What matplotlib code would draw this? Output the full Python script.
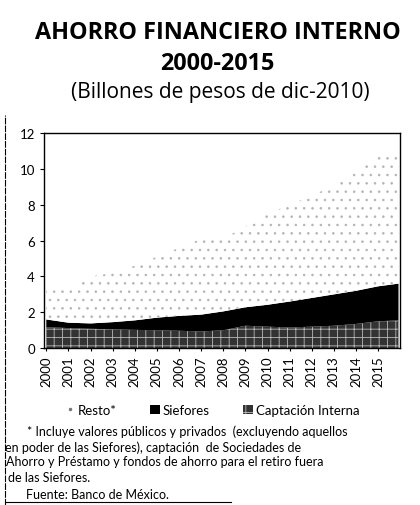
# coding: utf-8

import numpy as np
import matplotlib
matplotlib.use('agg')
import matplotlib.pyplot as plt
from matplotlib.patches import Patch
from matplotlib.lines import Line2D

# values (billones de pesos de dic-2010)
years = [2000, 2001, 2002, 2003, 2004, 2005, 2006, 2007, 2008,
         2009, 2010, 2011, 2012, 2013, 2014, 2015, 2015.92]
captacion = [1.17, 1.12, 1.08, 1.05, 1.02, 1.0, 0.97, 0.93, 1.0,
             1.25, 1.2, 1.15, 1.2, 1.25, 1.35, 1.5, 1.55]
siefores = [0.43, 0.3, 0.3, 0.4, 0.53, 0.7, 0.83, 0.94, 1.05,
            1.03, 1.22, 1.45, 1.6, 1.75, 1.85, 1.95, 2.05]
resto = [1.7, 1.88, 2.62, 2.75, 3.05, 3.4, 3.8, 4.23, 4.05,
         4.52, 5.08, 5.4, 5.7, 6.1, 6.6, 7.35, 7.3]
tick_years = list(range(2000, 2016))
yticks = [0, 2, 4, 6, 8, 10, 12]

plt.rcParams['font.family'] = ['Lato', 'DejaVu Sans']
plt.rcParams['hatch.linewidth'] = 0.6

fig = plt.figure(figsize=(4.2, 5.06), dpi=100)
ax = fig.add_axes([0.105, 0.31, 0.848, 0.425])

x = np.array(years)
c = np.array(captacion)
s = np.array(siefores)
r = np.array(resto)

ax.fill_between(x, 0, c, facecolor='#333333', edgecolor='#b8b8b8',
                hatch='++', linewidth=0)
ax.fill_between(x, c, c + s, facecolor='black', linewidth=0)
ax.fill_between(x, c + s, c + s + r, facecolor='white', edgecolor='#b4b4b4',
                hatch='..', linewidth=0)

ax.set_xlim(1999.9, 2016)
ax.set_ylim(0, 12)
ax.set_yticks(yticks)
ax.set_xticks(tick_years)
ax.set_xticklabels([str(y) for y in tick_years], rotation=90, fontsize=9.5)
ax.tick_params(axis='y', labelsize=9.5, length=3)
ax.tick_params(axis='x', length=2, pad=3)
for sp in ax.spines.values():
    sp.set_linewidth(1.0)

title_font = ['Open Sans', 'DejaVu Sans']
fig.text(0.518, 0.934, 'AHORRO FINANCIERO INTERNO', ha='center', va='center',
         fontsize=16.8, fontweight='bold', family=title_font)
fig.text(0.518, 0.873, '2000-2015', ha='center', va='center',
         fontsize=16.8, fontweight='bold', family=title_font)
fig.text(0.524, 0.818, '(Billones de pesos de dic-2010)', ha='center',
         va='center', fontsize=15, family=title_font)

handles = [
    Line2D([], [], marker='.', color='#777777', linestyle='none', markersize=3),
    Patch(facecolor='black'),
    Patch(facecolor='#333333', edgecolor='#b8b8b8', hatch='++', linewidth=0),
]
fig.legend(handles, ['Resto*', 'Siefores', 'Captación Interna'],
           loc='center', bbox_to_anchor=(0.505, 0.188), ncol=3, frameon=False,
           fontsize=9.5, handlelength=0.8, handletextpad=0.2,
           columnspacing=2.5)

notes = [
    (0.065, 0.146, '* Incluye valores públicos y privados  (excluyendo aquellos'),
    (0.012, 0.116, 'en poder de las Siefores), captación  de Sociedades de'),
    (0.015, 0.086, 'Ahorro y Préstamo y fondos de ahorro para el retiro fuera'),
    (0.020, 0.055, 'de las Siefores.'),
    (0.062, 0.022, 'Fuente: Banco de México.'),
]
for nx, ny, t in notes:
    fig.text(nx, ny, t, ha='left', va='center', fontsize=9)

# frame edges of the scanned page
fig.add_artist(Line2D([0.012, 0.012], [0.0, 0.77], color='black', lw=0.8,
                      linestyle=(0, (6, 1))))
fig.add_artist(Line2D([0.012, 0.55], [0.006, 0.006], color='black', lw=0.8))

fig.savefig('out.png', dpi=100)
